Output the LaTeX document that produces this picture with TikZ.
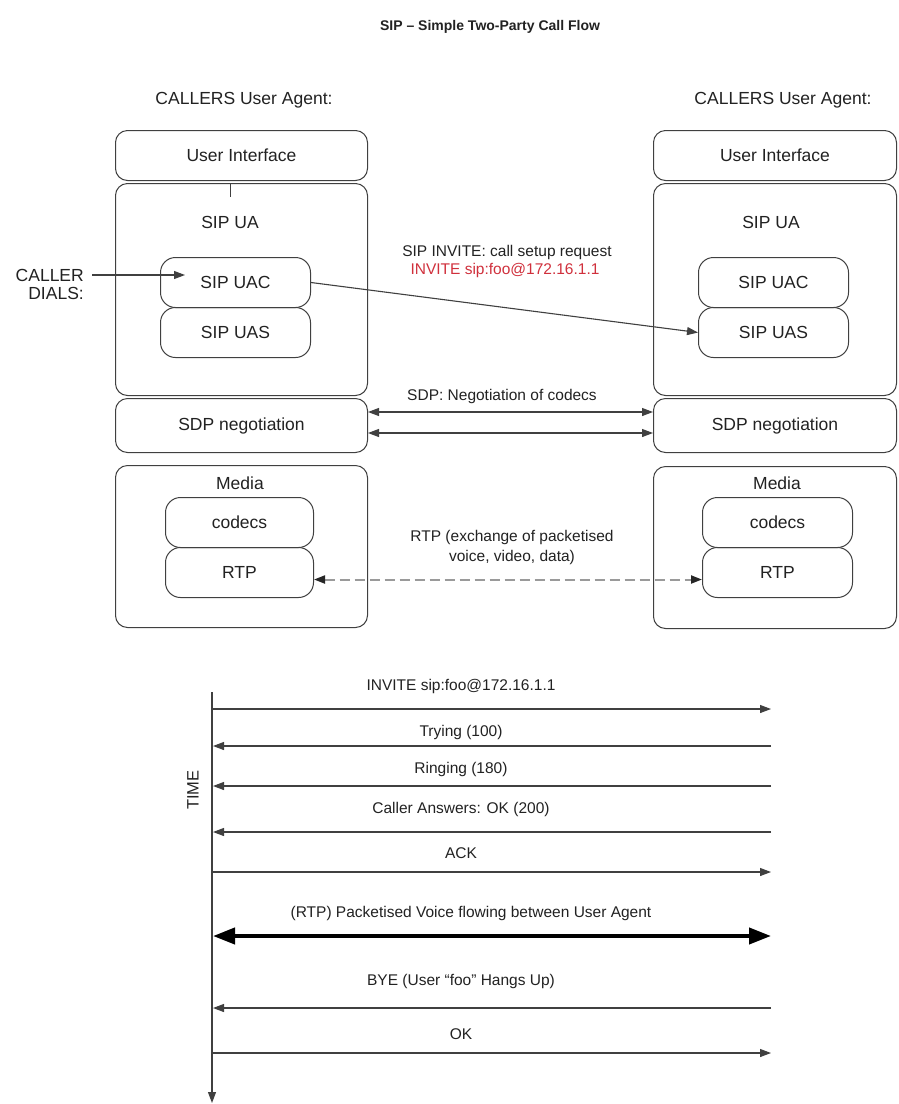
\documentclass[tikz,border=0pt]{standalone}
\usepackage{fontspec}
\setmainfont{Liberation Sans}
\usetikzlibrary{arrows.meta}
\definecolor{linec}{HTML}{404040}
\definecolor{textc}{HTML}{222222}
\definecolor{redt}{HTML}{D0303C}
\definecolor{dashc}{HTML}{9A9A9A}
\begin{document}
\begin{tikzpicture}[x=1pt,y=-1pt,
  outerbox/.style={draw=linec, line width=1pt, rounded corners=12pt, inner sep=0pt, anchor=north west, text=textc, font=\fontsize{17.5}{20}\selectfont},
  innerbox/.style={draw=linec, line width=1pt, rounded corners=15pt, inner sep=0pt, anchor=north west, minimum width=150pt, minimum height=50pt, text=textc, font=\fontsize{17.5}{20}\selectfont},
  biglab/.style={text=textc, font=\fontsize{17.5}{20}\selectfont, inner sep=0pt},
  midlab/.style={text=textc, font=\fontsize{15.5}{18}\selectfont, inner sep=0pt},
  tip/.style={-{Triangle[length=11pt,width=8pt]}},
  tipboth/.style={{Triangle[length=11pt,width=8pt]}-{Triangle[length=11pt,width=8pt]}},
  msg/.style={draw=linec, line width=1.1pt},
]
\useasboundingbox[fill=white] (0,0) rectangle (898,1104);

% title
\node[text=textc, font=\bfseries\fontsize{14}{16}\selectfont, inner sep=0pt] (title) at (490,27) {SIP – Simple Two-Party Call Flow};

% ---------- left user agent ----------
\node[biglab] (calL) at (244,100) {CALLERS User Agent:};
\node[outerbox, minimum width=252pt, minimum height=50pt] (uiL) at (115,130) {User Interface};
\node[outerbox, minimum width=252pt, minimum height=212pt] (uaL) at (115,183) {};
\node[biglab] (uaLt) at (230,222) {SIP UA};
\coordinate (tickL) at (230,197);
\draw[draw=linec, line width=1pt] (uaL.north -| tickL) -- (tickL);
\node[innerbox] (uacL) at (160,257) {SIP UAC};
\node[innerbox] (uasL) at (160,307) {SIP UAS};
\node[outerbox, minimum width=252pt, minimum height=54pt] (sdpL) at (115,398) {SDP negotiation};
\node[outerbox, minimum width=252pt, minimum height=162pt] (medL) at (115,465) {};
\node[biglab] (medLt) at (240,483) {Media};
\node[innerbox, minimum width=148pt] (codL) at (165,497) {codecs};
\node[innerbox, minimum width=148pt] (rtpL) at (165,547) {RTP};

\node[biglab, align=right, anchor=east, font=\fontsize{17.5}{18}\selectfont] (dials) at (84,284) {CALLER\\DIALS:};
\coordinate (dialS) at (92,275);
\coordinate (dialE) at (185,275);
\draw[msg, tip] (dialS) -- (dialE);

% ---------- right user agent ----------
\node[biglab] (calR) at (783,100) {CALLERS User Agent:};
\node[outerbox, minimum width=243pt, minimum height=50pt] (uiR) at (653,130) {User Interface};
\node[outerbox, minimum width=243pt, minimum height=212pt] (uaR) at (653,183) {};
\node[biglab] (uaRt) at (771,222) {SIP UA};
\node[innerbox] (uacR) at (698,257) {SIP UAC};
\node[innerbox] (uasR) at (698,307) {SIP UAS};
\node[outerbox, minimum width=243pt, minimum height=54pt] (sdpR) at (653,398) {SDP negotiation};
\node[outerbox, minimum width=243pt, minimum height=162pt] (medR) at (653,466) {};
\node[biglab] (medRt) at (777,483) {Media};
\node[innerbox] (codR) at (702,497) {codecs};
\node[innerbox] (rtpR) at (702,547) {RTP};

% ---------- middle messages ----------
\node[midlab] (invt) at (507,252) {SIP INVITE: call setup request};
\node[midlab, text=redt] (invr) at (505,270) {INVITE sip:foo@172.16.1.1};
\draw[msg, tip] (uacL.east) -- (uasR.west);

\node[midlab] (sdpt) at (502,396) {SDP: Negotiation of codecs};
\draw[msg, tipboth] (sdpL.east |- 0,412) -- (sdpR.west |- 0,412);
\draw[msg, tipboth] (sdpL.east |- 0,433) -- (sdpR.west |- 0,433);

\node[midlab, align=center, font=\fontsize{15.5}{20}\selectfont] (rtpt) at (512,547) {RTP (exchange of packetised\\voice, video, data)};
\draw[draw=dashc, line width=2pt, dash pattern=on 10pt off 5pt,
  {Triangle[length=11pt,width=8pt,color=black!85]}-{Triangle[length=11pt,width=8pt,color=black!85]}]
  ([yshift=-7pt]rtpL.east) -- ([yshift=-7pt]rtpR.west);

% ---------- time diagram ----------
\coordinate (ax0) at (212,692);
\coordinate (ax1) at (212,1103);
\draw[msg, tip] (ax0) -- (ax1);
\node[midlab, rotate=90, font=\fontsize{16.5}{18}\selectfont] (timet) at (193,790) {TIME};

\foreach \n/\y in {1/709,2/746,3/786,4/832,5/872,6/936,7/1008,8/1053}{
  \coordinate (a\n) at (213,\y);
  \coordinate (b\n) at (771,\y);
}
\node[midlab] (m1) at (461,686) {INVITE sip:foo@172.16.1.1};
\draw[msg, tip] (a1) -- (b1);
\node[midlab] (m2) at (461,732) {Trying (100)};
\draw[msg, tip] (b2) -- (a2);
\node[midlab] (m3) at (461,769) {Ringing (180)};
\draw[msg, tip] (b3) -- (a3);
\node[midlab] (m4) at (461,809) {Caller Answers: OK (200)};
\draw[msg, tip] (b4) -- (a4);
\node[midlab] (m5) at (461,853) {ACK};
\draw[msg, tip] (a5) -- (b5);
\node[midlab] (m6) at (471,913) {(RTP) Packetised Voice flowing between User Agent};
\draw[draw=black, line width=4pt, {Triangle[length=22pt,width=16pt]}-{Triangle[length=22pt,width=16pt]}] (a6) -- (b6);
\node[midlab] (m7) at (461,981) {BYE (User ``foo'' Hangs Up)};
\draw[msg, tip] (b7) -- (a7);
\node[midlab] (m8) at (461,1034) {OK};
\draw[msg, tip] (a8) -- (b8);
\end{tikzpicture}
\end{document}
